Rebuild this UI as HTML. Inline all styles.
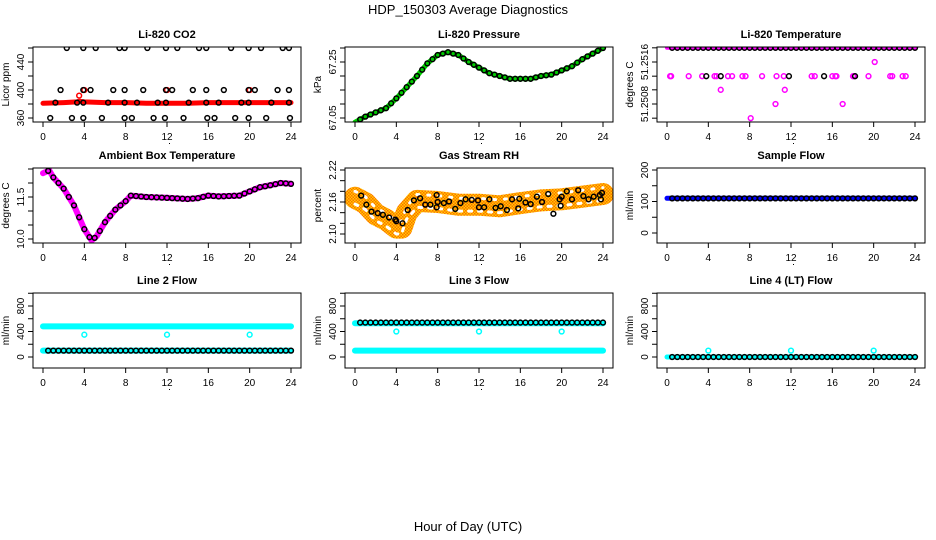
<!DOCTYPE html>
<html><head><meta charset="utf-8">
<style>
html,body{margin:0;padding:0;background:#fff;}
svg{display:block;font-family:"Liberation Sans",Arial,sans-serif;}
</style></head>
<body>
<svg id="chart" width="936" height="540" viewBox="0 0 936 540" xmlns="http://www.w3.org/2000/svg">
<defs>
<pattern id="checker" width="3" height="3" patternUnits="userSpaceOnUse">
<rect width="3" height="3" fill="#ffd000"/>
<rect width="1.5" height="1.5" fill="#ff6a00"/>
<rect x="1.5" y="1.5" width="1.5" height="1.5" fill="#ff6a00"/>
</pattern>
</defs>
<text x="468" y="14" text-anchor="middle" font-size="13">HDP_150303  Average Diagnostics</text>
<text x="468" y="531" text-anchor="middle" font-size="13">Hour of Day (UTC)</text>
</svg>
<script>
// ---- data ----
const HOURS = [0.5,1,1.5,2,2.5,3,3.5,4,4.5,5,5.5,6,6.5,7,7.5,8,8.5,9,9.5,10,10.5,11,11.5,12,12.5,13,13.5,14,14.5,15,15.5,16,16.5,17,17.5,18,18.5,19,19.5,20,20.5,21,21.5,22,22.5,23,23.5,24];
const XTICKS = [0,4,8,12,16,20,24];
const TITLES = ["Li-820 CO2","Li-820 Pressure","Li-820 Temperature","Ambient Box Temperature","Gas Stream RH","Sample Flow","Line 2 Flow","Line 3 Flow","Line 4 (LT) Flow"];
const YLABELS = ["Licor ppm","kPa","degrees C","degrees C","percent","ml/min","ml/min","ml/min","ml/min"];

// CO2
const co2BandH = [0,2,3.3,3.5,4,6,8,10,12,14,16,18,20,22,24];
const co2BandV = [381,382,383,384,383,382,382,381,381,381,382,382,382,382,382];
const co2TopH = [2.3,3.9,5.1,7.4,7.9,10.1,11.9,13,15.1,15.8,18.2,19.9,21.1,23.2,23.8];
const co2MidH = [1.7,3.9,4.6,6.8,7.9,9.7,11.9,12.5,14.5,15.8,17.5,19.9,20.5,22.7,23.8];
const co2LowH = [1.2,3.3,3.9,6.3,7.9,9.1,11.1,11.9,14.1,15.8,17,19.2,19.9,22.1,23.8];
const co2BotH = [0.7,2.8,3.9,5.7,7.9,8.6,10.7,11.8,13.6,15.9,16.6,18.6,19.9,21.6,23.9];
// Pressure
const presH = [0,1,2,3,4,5,6,7,8,9,10,11,12,13,14,15,16,17,18,19,20,21,22,23,24];
const presV = [67.035,67.055,67.07,67.085,67.12,67.16,67.2,67.245,67.275,67.285,67.275,67.25,67.23,67.21,67.2,67.19,67.19,67.19,67.2,67.205,67.22,67.235,67.26,67.28,67.3];
// Li-820 temperature
const tempTop = 51.25187;
const tempMidPinkH = [0.3,0.4,2.1,3.4,4.6,4.8,5.9,6.3,7.3,7.6,9.2,10.6,11.3,14,14.3,16,16.3,16.4,18,18.1,19.5,21.6,21.8,22.8,23.1];
const tempMidBlackH = [3.8,5.2,11.8,15.2,18.2];
const tempMidV = 51.25133;
const tempOutH = [5.2,11.4,10.5,17,8.1,20.1];
const tempOutV = [51.25107,51.25107,51.2508,51.2508,51.25053,51.2516];
// Ambient
const ambH = [0,0.6,1,2,3,4,4.7,5.2,6,7,8,8.5,10,12,14,15,16,17,19,20,21,22,23,24];
const ambV = [12.35,12.45,12.2,11.8,11.2,10.35,9.95,10.1,10.6,11.05,11.35,11.55,11.5,11.47,11.43,11.46,11.55,11.52,11.55,11.7,11.85,11.92,12.0,11.97];
// RH
const rhH = [0,1,2,3,4,4.5,5,6,8,10,12,14,16,18,20,22,24];
const rhV = [2.168,2.158,2.137,2.127,2.112,2.112,2.14,2.162,2.16,2.155,2.155,2.152,2.158,2.163,2.165,2.17,2.175];
const rhPtH = [0.6,1.1,1.6,2.2,2.7,3.3,3.9,4,4.6,5.1,5.7,6.3,6.8,7.3,7.9,7.9,8,8.6,9.1,9.7,10.2,10.7,11.3,11.9,12,12.5,13,13.6,14.1,14.7,15.2,15.8,15.9,16.5,17,17.6,18.1,18.7,19.2,19.8,19.9,20,20.5,21,21.6,22.1,22.6,23.1,23.7,23.8,23.9];
const rhPtV = [2.172,2.155,2.142,2.139,2.136,2.131,2.127,2.124,2.12,2.145,2.163,2.167,2.155,2.155,2.173,2.15,2.16,2.158,2.161,2.147,2.158,2.165,2.164,2.163,2.15,2.15,2.165,2.149,2.152,2.145,2.165,2.148,2.166,2.159,2.156,2.17,2.16,2.175,2.138,2.165,2.153,2.17,2.18,2.165,2.182,2.171,2.165,2.17,2.173,2.165,2.177];
// flows
const sampleV = 110;
const line2Hi = 480, line2Lo = 100, line2Out = 350;
const line3Hi = 530, line3Lo = 100, line3Black = 540, line3Out = 400;
const line4Lo = 0, line4Out = 100;
const outH = [4,12,20];

const YT = [
  {a:[360,118,440,62], ticks:[360,380,400,420,440,460], labels:[360,400,440], fmt:v=>String(v)},
  {a:[67.05,118,67.25,62], ticks:[67.05,67.1,67.15,67.2,67.25,67.3], labels:[67.05,67.25], fmt:v=>v.toFixed(2)},
  {a:[51.2508,104,51.2516,62], ticks:[51.25053,51.2508,51.25107,51.25133,51.2516,51.25187], labels:[51.2508,51.2516], fmt:v=>v.toFixed(4)},
  {a:[10.0,239,11.5,197], ticks:[10,10.5,11,11.5,12,12.5], labels:[10,11.5], fmt:v=>v.toFixed(1)},
  {a:[2.10,234,2.22,170], ticks:[2.10,2.12,2.14,2.16,2.18,2.20,2.22], labels:[2.10,2.16,2.22], fmt:v=>v.toFixed(2)},
  {a:[0,233,200,170], ticks:[0,50,100,150,200], labels:[0,100,200], fmt:v=>String(v)},
  {a:[0,357,800,306], ticks:[0,200,400,600,800,1000], labels:[0,400,800], fmt:v=>String(v)},
  {a:[0,357,800,306], ticks:[0,200,400,600,800,1000], labels:[0,400,800], fmt:v=>String(v)},
  {a:[0,357,800,306], ticks:[0,200,400,600,800,1000], labels:[0,400,800], fmt:v=>String(v)}
];

const NS = "http://www.w3.org/2000/svg";
const svg = document.getElementById("chart");
const COLS = [33,345,657], ROWS = [47,168,293], BW = 268, BH = 75;

function mk(tag, attrs, parent){
  const e = document.createElementNS(NS, tag);
  for (const k in attrs) e.setAttribute(k, attrs[k]);
  (parent||svg).appendChild(e);
  return e;
}

const panels = [];
for (let i=0;i<9;i++){
  const L = COLS[i%3], T = ROWS[Math.floor(i/3)];
  const yt = YT[i];
  const k = (yt.a[3]-yt.a[1])/(yt.a[2]-yt.a[0]);
  const xs = h => L + 10 + h/24*248;
  const ys = v => yt.a[1] + (v-yt.a[0])*k;
  const g = mk("g", {});
  
  
  const clip = mk("clipPath", {id:"clip"+i}, g);
  mk("rect", {x:L, y:T, width:BW, height:BH}, clip);
  const plot = mk("g", {"clip-path":"url(#clip"+i+")"}, g);
  
  
  const t = mk("text", {x:L+BW/2, y:T-9, "text-anchor":"middle", "font-size":"11", "font-weight":"bold"}, g);
  t.textContent = TITLES[i];
  
  
  const fr = mk("rect", {x:L, y:T, width:BW, height:BH, fill:"none", stroke:"#000", "stroke-width":"1"}, g);
  
  
  XTICKS.forEach(h=>{
    const x = xs(h);
    const tk = mk("line", {x1:x, x2:x, y1:T+BH, y2:T+BH+5, stroke:"#000"}, g);
    
    
    const tl = mk("text", {x:x, y:T+BH+18, "text-anchor":"middle", "font-size":"10"}, g);
    tl.textContent = h;
    
    
  });
  const dot = mk("rect", {x:L+BW/2+2, y:T+BH+21, width:1, height:1, fill:"#000"}, g);
  
  
  yt.ticks.forEach(v=>{
    const y = ys(v);
    const tk = mk("line", {x1:L-5, x2:L, y1:y, y2:y, stroke:"#000"}, g);
    
    
  });
  yt.labels.forEach(v=>{
    const y = ys(v), x = L-9;
    const tl = mk("text", {x:x, y:y, "text-anchor":"middle", "font-size":"10", transform:`rotate(-90 ${x} ${y})`}, g);
    tl.textContent = yt.fmt(v);
    
    
  });
  const yl = L-24, ym = T+BH/2;
  const ylab = mk("text", {x:yl, y:ym, "text-anchor":"middle", "font-size":"10", transform:`rotate(-90 ${yl} ${ym})`}, g);
  ylab.textContent = YLABELS[i];
  
  
  panels.push({xs, ys, plot});
}

function band(p, H, V, color, w, name, dash){
  const d = H.map((h,j)=>(j?"L":"M")+p.xs(h).toFixed(1)+","+p.ys(V[j]).toFixed(1)).join(" ");
  const e = mk("path", {d:d, fill:"none", stroke:color, "stroke-width":w, "stroke-linejoin":"round", "stroke-linecap":"round"}, p.plot);
  if (dash) e.setAttribute("stroke-dasharray", dash);
  
  
}
function pts(p, H, V, color, name, r){
  H.forEach((h,j)=>{
    const v = Array.isArray(V) ? V[j] : V;
    const c = mk("circle", {cx:p.xs(h), cy:p.ys(v), r:r||2.4, fill:"none", stroke:color, "stroke-width":"1.5"}, p.plot);
    
    
  });
}
function interpAt(H, V, h){
  for (let j=1;j<H.length;j++) if (h<=H[j]) return V[j-1]+(V[j]-V[j-1])*(h-H[j-1])/(H[j]-H[j-1]);
  return V[V.length-1];
}

// 1 CO2
let p = panels[0];
band(p, co2BandH, co2BandV, "#ff0000", 5, "co2-band");
pts(p, [3.5,4,12,20], [392,400,400,400], "#ff0000", "co2-red-point");
pts(p, co2TopH, 460, "#000", "co2-point");
pts(p, co2MidH, 400, "#000", "co2-point");
pts(p, co2LowH, 382, "#000", "co2-point");
pts(p, co2BotH, 360, "#000", "co2-point");
// 2 Pressure
p = panels[1];
band(p, presH, presV, "#00cc00", 5, "pressure-band");
pts(p, HOURS, HOURS.map(h=>interpAt(presH,presV,h)), "#000", "pressure-point");
// 3 Temperature
p = panels[2];
band(p, [0,24], [tempTop,tempTop], "#ff00ff", 4, "temp-band");
pts(p, HOURS, tempTop, "#000", "temp-point");
pts(p, tempMidPinkH, tempMidV, "#ff00ff", "temp-pink-point");
pts(p, tempMidBlackH, tempMidV, "#000", "temp-point");
pts(p, tempOutH, tempOutV, "#ff00ff", "temp-pink-point");
// 4 Ambient
p = panels[3];
band(p, ambH, ambV, "#ff00ff", 6, "ambient-band");
pts(p, HOURS, HOURS.map(h=>interpAt(ambH,ambV,h)), "#000", "ambient-point");
// 5 RH
p = panels[4];
band(p, rhH, rhV, "url(#checker)", 22, "rh-band");
band(p, rhH, rhV.map(v=>v+0.012), "#ffffff", 3, "rh-band-gap-upper", "2 9");
band(p, rhH, rhV.map(v=>v-0.012), "#ffffff", 3, "rh-band-gap-lower", "3 7");
pts(p, rhPtH, rhPtV, "#000", "rh-point");
// 6 Sample flow
p = panels[5];
band(p, [0,24], [sampleV,sampleV], "#0000ff", 5, "sample-band");
pts(p, HOURS, sampleV, "#000", "sample-point");
// 7 Line 2
p = panels[6];
band(p, [0,24], [line2Hi,line2Hi], "#00ffff", 6, "line2-high-band");
band(p, [0,24], [line2Lo,line2Lo], "#00ffff", 6, "line2-low-band");
pts(p, HOURS, line2Lo, "#000", "line2-point");
pts(p, outH, line2Out, "#00ffff", "line2-outlier");
// 8 Line 3
p = panels[7];
band(p, [0,24], [line3Hi,line3Hi], "#00ffff", 6, "line3-high-band");
band(p, [0,24], [line3Lo,line3Lo], "#00ffff", 6, "line3-low-band");
pts(p, HOURS, line3Black, "#000", "line3-point");
pts(p, outH, line3Out, "#00ffff", "line3-outlier");
// 9 Line 4
p = panels[8];
band(p, [0,24], [line4Lo,line4Lo], "#00ffff", 5, "line4-band");
pts(p, HOURS, line4Lo, "#000", "line4-point");
pts(p, outH, line4Out, "#00ffff", "line4-outlier");
</script>
</body></html>
